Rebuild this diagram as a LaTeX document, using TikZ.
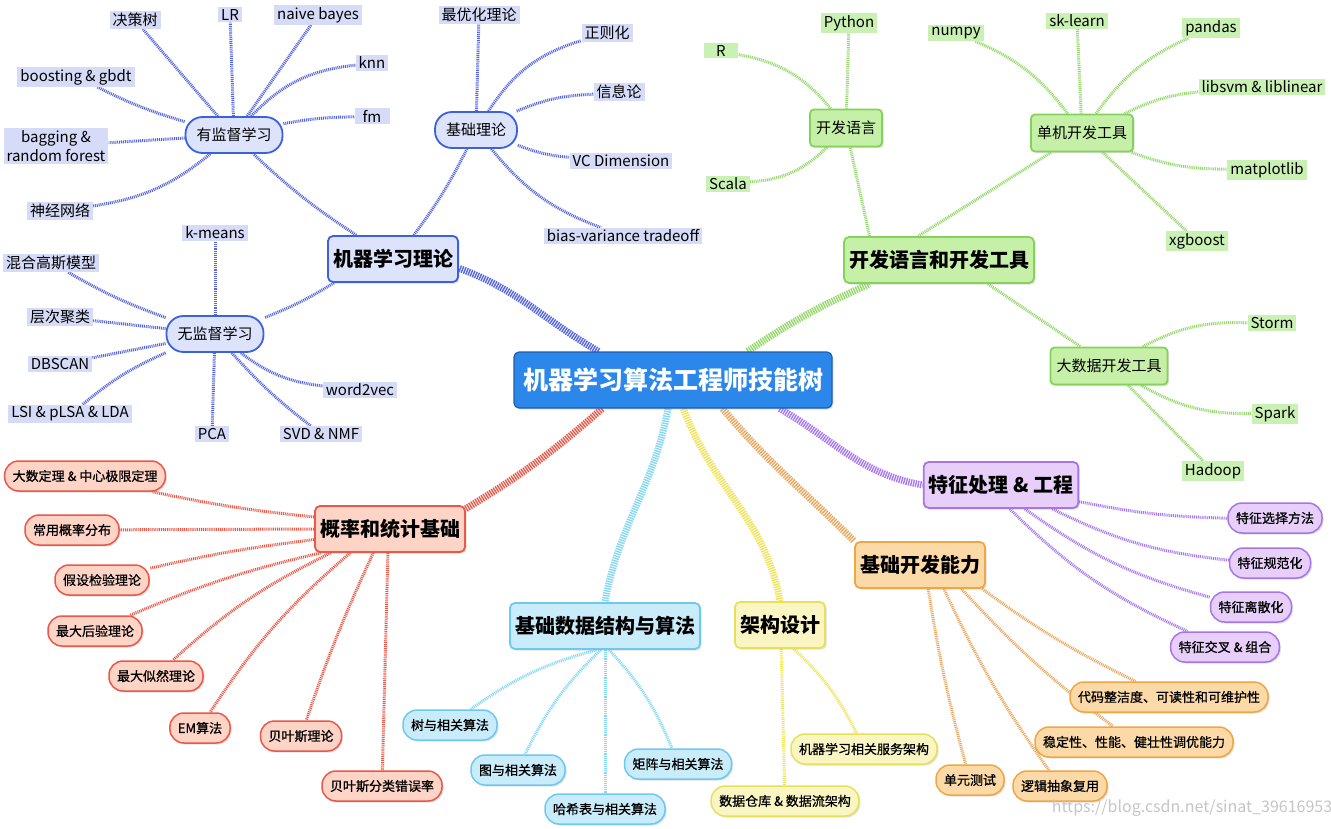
\documentclass[tikz,border=0pt]{standalone}
\usepackage{fontspec}
\setmainfont{Noto Sans CJK SC}
\newfontfamily\pillfont{Noto Sans CJK SC}[FakeBold=0.8]
\usetikzlibrary{positioning,shadows,backgrounds}
\definecolor{rootfill}{HTML}{2B87E9}
\definecolor{rootline}{HTML}{1B5FB5}
\definecolor{thfill}{HTML}{DCE3FB}
\definecolor{thline}{HTML}{3B62DC}
\definecolor{thtag}{HTML}{D6DBF8}
\definecolor{thlink}{HTML}{5666DE}
\definecolor{tlfill}{HTML}{C6EFA8}
\definecolor{tlline}{HTML}{84D25A}
\definecolor{tltag}{HTML}{C9F1B3}
\definecolor{tllink}{HTML}{94D96A}
\definecolor{ftfill}{HTML}{E7CFFA}
\definecolor{ftline}{HTML}{A676E8}
\definecolor{ftlink}{HTML}{A679F0}
\definecolor{cdfill}{HTML}{FCDAA8}
\definecolor{cdline}{HTML}{F0A643}
\definecolor{cdlink}{HTML}{E9A860}
\definecolor{dsfill}{HTML}{FAF6C4}
\definecolor{dsline}{HTML}{E9E05A}
\definecolor{dslink}{HTML}{F0E35A}
\definecolor{alfill}{HTML}{C9ECFA}
\definecolor{alline}{HTML}{6FC8F0}
\definecolor{allink}{HTML}{86D8F2}
\definecolor{stfill}{HTML}{FDD4C6}
\definecolor{stline}{HTML}{EC5747}
\definecolor{stlink}{HTML}{E85A4A}

\begin{document}
\begin{tikzpicture}[x=1pt,y=1pt,
    every node/.style={font=\fontsize{15}{19}\selectfont},
    shade/.style={drop shadow={opacity=0.25,shadow xshift=1.5pt,shadow yshift=-1.5pt}},
    root/.style={rectangle,rounded corners=5pt,draw=rootline,line width=1.2pt,fill=rootfill,
      text=white,font=\bfseries\fontsize{25}{29}\selectfont,minimum width=318pt,minimum height=56pt,shade},
    topic/.style={rectangle,rounded corners=5pt,line width=1.8pt,font=\bfseries\fontsize{20}{24}\selectfont,
      minimum height=46pt,inner xsep=5pt,shade},
    subpill/.style={rectangle,rounded corners=17pt,line width=1.8pt,minimum height=36pt,inner xsep=11pt},
    subbox/.style={rectangle,rounded corners=4pt,line width=1.8pt,minimum height=37pt,inner xsep=6pt,shade},
    tag/.style={rectangle,inner xsep=3pt,inner ysep=2pt},
    pill/.style={rectangle,rounded corners=14pt,line width=1.5pt,minimum height=30pt,inner xsep=8pt,
      font=\pillfont\fontsize{13}{15}\selectfont,shade},
    theory/.style={draw=thline,fill=thfill},
    tools/.style={draw=tlline,fill=tlfill},
    features/.style={draw=ftline,fill=ftfill},
    coding/.style={draw=cdline,fill=cdfill},
    design/.style={draw=dsline,fill=dsfill},
    algo/.style={draw=alline,fill=alfill},
    stats/.style={draw=stline,fill=stfill},
    link/.style={line width=3pt,dash pattern=on 1pt off 0.9pt},
    trunk/.style={line width=7pt,dash pattern=on 1.4pt off 1pt}]
  \useasboundingbox (0,0) rectangle (1331,-829);
  % centre and main topics
  \node[root] (root) at (673,-380) {机器学习算法工程师技能树};
  \node[topic,theory] (mlt) at (393,-259) {机器学习理论};
  \node[topic,tools] (dev) at (939,-260) {开发语言和开发工具};
  \node[topic,features] (feat) at (1001,-485) {特征处理 \& 工程};
  \node[topic,coding] (base) at (920,-565) {基础开发能力};
  \node[topic,design] (arch) at (780,-625) {架构设计};
  \node[topic,algo] (dsa) at (605,-626) {基础数据结构与算法};
  \node[topic,stats] (prob) at (390,-529) {概率和统计基础};
  % machine learning theory
  \node[subpill,theory] (sup) at (234,-135) {有监督学习};
  \node[subpill,theory] (basic) at (476,-130) {基础理论};
  \node[subpill,theory] (unsup) at (215,-334) {无监督学习};
  \node[tag,fill=thtag] (dtree) at (135,-20) {决策树};
  \node[tag,fill=thtag] (lr) at (230,-15) {LR};
  \node[tag,fill=thtag] (nb) at (318,-15) {naive bayes};
  \node[tag,fill=thtag] (knn) at (372,-63) {knn};
  \node[tag,fill=thtag,minimum width=35pt] (fm) at (372,-116) {fm};
  \node[tag,fill=thtag] (boost) at (76,-77) {boosting \& gbdt};
  \node[tag,fill=thtag,align=center,font=\fontsize{15}{19}\selectfont] (bag) at (56,-146) {bagging \&\\random forest};
  \node[tag,fill=thtag] (nn) at (60,-211) {神经网络};
  \node[tag,fill=thtag] (kmeans) at (215,-233) {k-means};
  \node[tag,fill=thtag] (gmm) at (51,-263) {混合高斯模型};
  \node[tag,fill=thtag] (hier) at (60,-317) {层次聚类};
  \node[tag,fill=thtag] (dbscan) at (60,-364) {DBSCAN};
  \node[tag,fill=thtag] (lsi) at (70,-414) {LSI \& pLSA \& LDA};
  \node[tag,fill=thtag] (pca) at (212,-434) {PCA};
  \node[tag,fill=thtag] (svd) at (321,-434) {SVD \& NMF};
  \node[tag,fill=thtag] (wvec) at (360,-390) {word2vec};
  \node[tag,fill=thtag] (opt) at (479,-15) {最优化理论};
  \node[tag,fill=thtag] (reg) at (607,-33) {正则化};
  \node[tag,fill=thtag] (info) at (619,-92) {信息论};
  \node[tag,fill=thtag] (vc) at (621,-161) {VC Dimension};
  \node[tag,fill=thtag] (bias) at (623,-236) {bias-variance tradeoff};
  % languages and tools
  \node[subbox,tools] (lang) at (846,-128) {开发语言};
  \node[subbox,tools] (local) at (1082,-133) {单机开发工具};
  \node[subbox,tools] (bigdata) at (1109,-366) {大数据开发工具};
  \node[tag,fill=tltag,minimum width=34pt] (rlang) at (721,-51) {R};
  \node[tag,fill=tltag] (py) at (849,-23) {Python};
  \node[tag,fill=tltag] (scala) at (728,-184) {Scala};
  \node[tag,fill=tltag] (numpy) at (956,-33) {numpy};
  \node[tag,fill=tltag] (skl) at (1077,-21) {sk-learn};
  \node[tag,fill=tltag] (pandas) at (1211,-28) {pandas};
  \node[tag,fill=tltag] (libsvm) at (1262,-87) {libsvm \& liblinear};
  \node[tag,fill=tltag] (mpl) at (1267,-170) {matplotlib};
  \node[tag,fill=tltag] (xgb) at (1197,-241) {xgboost};
  \node[tag,fill=tltag] (storm) at (1272,-323) {Storm};
  \node[tag,fill=tltag] (spark) at (1275,-414) {Spark};
  \node[tag,fill=tltag] (hadoop) at (1213,-471) {Hadoop};
  % features
  \node[pill,features] (fsel) at (1275,-518) {特征选择方法};
  \node[pill,features] (fnorm) at (1270,-563) {特征规范化};
  \node[pill,features] (fdisc) at (1251,-607) {特征离散化};
  \node[pill,features] (fcross) at (1225,-647) {特征交叉 \& 组合};
  % coding skills
  \node[pill,coding] (clean) at (1169,-697) {代码整洁度、可读性和可维护性};
  \node[pill,coding] (stable) at (1134,-742) {稳定性、性能、健壮性调优能力};
  \node[pill,coding] (unit) at (970,-780) {单元测试};
  \node[pill,coding] (abstr) at (1060,-786) {逻辑抽象复用};
  % architecture
  \node[pill,design] (mlsvc) at (864,-749) {机器学习相关服务架构};
  \node[pill,design] (dwh) at (785,-801) {数据仓库 \& 数据流架构};
  % data structures
  \node[pill,algo] (tree) at (450,-725) {树与相关算法};
  \node[pill,algo] (graph) at (518,-770) {图与相关算法};
  \node[pill,algo] (hash) at (605,-809) {哈希表与相关算法};
  \node[pill,algo] (matrix) at (678,-764) {矩阵与相关算法};
  % statistics
  \node[pill,stats] (lln) at (85,-476) {大数定理 \& 中心极限定理};
  \node[pill,stats] (dist) at (72,-530) {常用概率分布};
  \node[pill,stats] (hyp) at (102,-580) {假设检验理论};
  \node[pill,stats] (map) at (95,-631) {最大后验理论};
  \node[pill,stats] (mle) at (156,-676) {最大似然理论};
  \node[pill,stats] (em) at (200,-728) {EM算法};
  \node[pill,stats] (bayes) at (301,-736) {贝叶斯理论};
  \node[pill,stats] (bayerr) at (382,-786) {贝叶斯分类错误率};
  \node[text=gray!45,font=\fontsize{16}{18}\selectfont] (mark) at (1192,-808) {https://blog.csdn.net/sinat\_39616953};

  \begin{scope}[on background layer]
    \fill[white] (0,0) rectangle (1331,-829);
    % trunks
    \draw[trunk,thlink] (root.159) to[out=150,in=-20] (mlt.-8);
    \draw[trunk,tllink] (root.21) to[bend left=5] (dev.199);
    \draw[trunk,ftlink] (root.-15) to[out=-30,in=170] (feat.west);
    \draw[trunk,cdlink] (root.-30) to[out=-50,in=135] (base.north west);
    \draw[trunk,dslink] (root.-70) to[out=-70,in=100] (arch.north);
    \draw[trunk,allink] (root.-100) to[out=-100,in=80] (dsa.north);
    \draw[trunk,stlink] (root.-158) to[bend left=5] (prob.15);
    % theory branch
    \draw[link,thlink] (mlt.147) to[bend left=5] (sup);
    \draw[link,thlink] (mlt.49) to[bend right=5] (basic);
    \draw[link,thlink] (mlt.202) to[bend left=5] (unsup);
    \draw[link,thlink] (sup) -- (dtree);
    \draw[link,thlink] (sup) -- (lr);
    \draw[link,thlink] (sup) -- (nb);
    \draw[link,thlink] (sup) to[bend left=20] (knn);
    \draw[link,thlink] (sup) to[bend left=5] (fm);
    \draw[link,thlink] (sup) to[bend left=5] (boost);
    \draw[link,thlink] (sup) -- (bag);
    \draw[link,thlink] (sup) to[bend left=15] (nn);
    \draw[link,thlink] (unsup) -- (kmeans);
    \draw[link,thlink] (unsup) to[bend left=5] (gmm);
    \draw[link,thlink] (unsup) -- (hier);
    \draw[link,thlink] (unsup) -- (dbscan);
    \draw[link,thlink] (unsup) to[bend right=8] (lsi);
    \draw[link,thlink] (unsup) -- (pca);
    \draw[link,thlink] (unsup) to[bend right=5] (svd);
    \draw[link,thlink] (unsup) to[bend right=15] (wvec);
    \draw[link,thlink] (basic) -- (opt);
    \draw[link,thlink] (basic) to[bend left=20] (reg);
    \draw[link,thlink] (basic) to[bend left=10] (info);
    \draw[link,thlink] (basic) to[bend right=8] (vc);
    \draw[link,thlink] (basic) to[bend right=15] (bias);
    % tools branch
    \draw[link,tllink] (dev.161) -- (lang);
    \draw[link,tllink] (dev.131) -- (local);
    \draw[link,tllink] (dev.-26) -- (bigdata);
    \draw[link,tllink] (lang) to[bend right=20] (rlang);
    \draw[link,tllink] (lang) -- (py);
    \draw[link,tllink] (lang) to[bend left=20] (scala);
    \draw[link,tllink] (local) to[bend right=15] (numpy);
    \draw[link,tllink] (local) -- (skl);
    \draw[link,tllink] (local) to[bend left=15] (pandas);
    \draw[link,tllink] (local) to[bend left=10] (libsvm);
    \draw[link,tllink] (local) to[bend right=10] (mpl);
    \draw[link,tllink] (local) -- (xgb);
    \draw[link,tllink] (bigdata) to[bend left=15] (storm);
    \draw[link,tllink] (bigdata) to[bend right=15] (spark);
    \draw[link,tllink] (bigdata) -- (hadoop);
    % features branch
    \draw[link,ftlink] (feat.-12) to[bend right=5] (fsel);
    \draw[link,ftlink] (feat.-25) to[bend right=10] (fnorm);
    \draw[link,ftlink] (feat.-45) to[bend right=10] (fdisc);
    \draw[link,ftlink] (feat.-70) to[bend right=10] (fcross);
    % coding branch
    \draw[link,cdlink] (base.-71) to[bend right=3] (unit);
    \draw[link,cdlink] (base.-45) to[bend right=5] (abstr);
    \draw[link,cdlink] (base.-30) to[bend right=5] (stable);
    \draw[link,cdlink] (base.-21) to[bend right=5] (clean);
    % architecture branch
    \draw[link,dslink] (arch.-87) -- (dwh);
    \draw[link,dslink] (arch.-60) to[bend left=10] (mlsvc);
    % data structures branch
    \draw[link,allink] (dsa.-110) to[bend right=10] (tree);
    \draw[link,allink] (dsa.-100) to[bend right=10] (graph);
    \draw[link,allink] (dsa.south) -- (hash);
    \draw[link,allink] (dsa.-80) to[bend left=10] (matrix);
    % statistics branch
    \draw[link,stlink] (prob.171) to[bend left=3] (lln);
    \draw[link,stlink] (prob.180) -- (dist);
    \draw[link,stlink] (prob.188) to[bend right=3] (hyp);
    \draw[link,stlink] (prob.199) to[bend right=5] (map);
    \draw[link,stlink] (prob.202) to[bend right=8] (mle);
    \draw[link,stlink] (prob.211) to[bend right=8] (em);
    \draw[link,stlink] (prob.235) to[bend right=3] (bayes);
    \draw[link,stlink] (prob.265) -- (bayerr);
  \end{scope}
\end{tikzpicture}
\end{document}
